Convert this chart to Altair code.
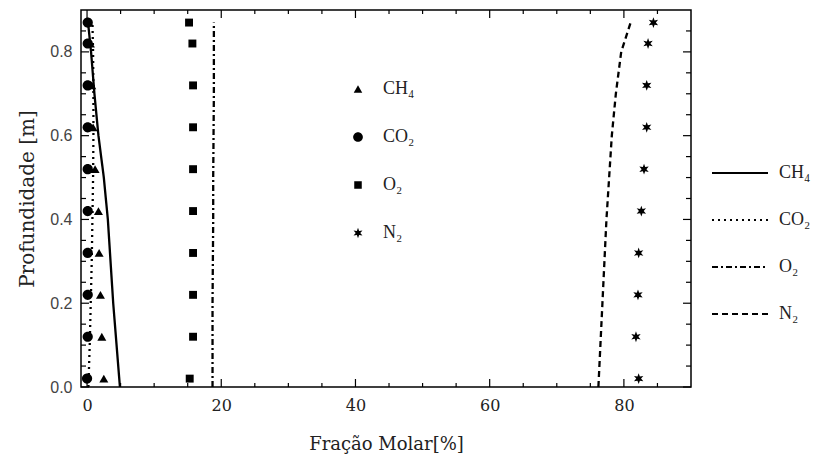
import math
import altair as alt
import pandas as pd

# ---- data ----
species = ["CH₄", "CO₂", "O₂", "N₂"]
depth_pts = [0.02, 0.12, 0.22, 0.32, 0.42, 0.52, 0.62, 0.72, 0.82, 0.87]
ch4_pts = [2.5, 2.2, 2.0, 1.8, 1.7, 1.2, 0.9, 0.7, 0.5, 0.3]
co2_pts = [0.0, 0.1, 0.1, 0.1, 0.1, 0.1, 0.1, 0.1, 0.1, 0.1]
o2_pts = [15.3, 15.8, 15.8, 15.8, 15.8, 15.8, 15.8, 15.8, 15.7, 15.2]
n2_pts = [82.2, 81.8, 82.1, 82.2, 82.6, 83.0, 83.4, 83.4, 83.6, 84.4]

depth_line = [0.0, 0.1, 0.2, 0.3, 0.4, 0.5, 0.6, 0.7, 0.8, 0.87]
ch4_line = [4.9, 4.4, 3.9, 3.5, 3.1, 2.5, 1.7, 1.1, 0.6, 0.15]
co2_line = [0.2, 0.4, 0.55, 0.7, 0.8, 0.9, 0.95, 0.95, 0.9, 0.8]
o2_line = [18.7, 18.7, 18.7, 18.75, 18.8, 18.8, 18.85, 18.9, 18.9, 18.9]
n2_line = [76.2, 76.5, 76.8, 77.1, 77.4, 77.8, 78.2, 78.8, 79.6, 81.0]

x_major = [0, 20, 40, 60, 80]
x_minor = [5, 10, 15, 25, 30, 35, 45, 50, 55, 65, 70, 75, 85]
y_major = [0.0, 0.2, 0.4, 0.6, 0.8]
y_minor = [0.05, 0.1, 0.15, 0.25, 0.3, 0.35, 0.45, 0.5, 0.55, 0.65, 0.7, 0.75, 0.85]

pts = pd.DataFrame(
    [(s, x, d) for s, xs in zip(species, [ch4_pts, co2_pts, o2_pts, n2_pts])
     for x, d in zip(xs, depth_pts)],
    columns=["sp", "x", "depth"],
)
lines = pd.DataFrame(
    [(s, x, d) for s, xs in zip(species, [ch4_line, co2_line, o2_line, n2_line])
     for x, d in zip(xs, depth_line)],
    columns=["sp", "x", "depth"],
)

# ---- marker shapes (unit box [-1,1]) ----
def star_path(r_out=0.9, r_in=0.4, n=6):
    p = []
    for i in range(2 * n):
        r = r_out if i % 2 == 0 else r_in
        a = math.pi / 2 + i * math.pi / n
        p.append((r * math.cos(a), -r * math.sin(a)))
    return "M" + "L".join(f"{x:.3f},{y:.3f}" for x, y in p) + "Z"

def circle_path(r=0.85):
    return f"M{-r},0A{r},{r} 0 1,0 {r},0A{r},{r} 0 1,0 {-r},0Z"

def tri_path(w=0.75, h=0.65):
    return f"M0,{-h}L{w},{h}L{-w},{h}Z"

def sq_path(s=0.66):
    return f"M{-s},{-s}L{s},{-s}L{s},{s}L{-s},{s}Z"

SERIF = "DejaVu Serif"
SANS = "Liberation Sans"
W, H = 610, 377
xs = alt.Scale(domain=[-0.9, 90], nice=False, zero=False)
ys = alt.Scale(domain=[0, 0.9], nice=False, zero=False)

x_axis = alt.Axis(title="Fração Molar[%]", values=x_major, format="d")
y_axis = alt.Axis(title="Profundidade [m]", values=y_major, format=".1f")

line_layer = alt.Chart(lines).mark_line(color="black", strokeWidth=2.3).encode(
    x=alt.X("x:Q", scale=xs, axis=x_axis),
    y=alt.Y("depth:Q", scale=ys, axis=y_axis),
    strokeDash=alt.StrokeDash("sp:N", scale=alt.Scale(
        domain=species, range=[[1, 0], [2, 4], [6, 3, 2, 3], [6, 4]]),
        legend=alt.Legend(title=None, orient="none", legendX=630, legendY=134,
                          symbolType="stroke", symbolSize=3136, symbolStrokeWidth=2,
                          symbolStrokeColor="black", labelFont="Liberation Serif",
                          labelFontSize=18, labelColor="#222", labelOffset=10,
                          rowPadding=9)),
    detail="sp:N",
    order="depth:Q",
)

point_layer = alt.Chart(pts).mark_point(
    filled=True, color="black", opacity=1, size=144
).encode(
    x=alt.X("x:Q", scale=xs, axis=x_axis),
    y=alt.Y("depth:Q", scale=ys, axis=y_axis),
    shape=alt.Shape("sp:N", scale=alt.Scale(
        domain=species, range=[tri_path(), circle_path(), sq_path(), star_path()]),
        legend=alt.Legend(title=None, orient="none", legendX=268, legendY=70,
                          symbolFillColor="black", symbolStrokeColor="black",
                          symbolStrokeWidth=0, symbolSize=130,
                          labelFont="Liberation Serif",
                          labelFontSize=18, labelColor="#222", labelOffset=16,
                          rowPadding=30)),
)

def tick_rules(vals, field, side, length):
    df = pd.DataFrame({field: vals})
    base = alt.Chart(df).mark_rule(color="black", strokeWidth=1.2)
    if side in ("left", "right"):
        enc_y = alt.Y(f"{field}:Q", scale=ys, axis=y_axis)
        if side == "left":
            return base.encode(y=enc_y, x=alt.value(0), x2=alt.value(length))
        return base.encode(y=enc_y, x=alt.value(W), x2=alt.value(W - length))
    enc_x = alt.X(f"{field}:Q", scale=xs, axis=x_axis)
    if side == "bottom":
        return base.encode(x=enc_x, y=alt.value(H), y2=alt.value(H - length))
    return base.encode(x=enc_x, y=alt.value(0), y2=alt.value(length))

ticks = [
    tick_rules(y_major, "depth", "left", 8), tick_rules(y_minor, "depth", "left", 5),
    tick_rules(y_major, "depth", "right", 8), tick_rules(y_minor, "depth", "right", 5),
    tick_rules(x_major, "x", "bottom", 8), tick_rules(x_minor, "x", "bottom", 4),
    tick_rules(x_major, "x", "top", 8), tick_rules(x_minor, "x", "top", 4),
]

chart = alt.layer(line_layer, point_layer, *ticks).resolve_scale(
    strokeDash="independent", shape="independent"
).properties(
    width=W, height=H,
    autosize=alt.AutoSizeParams(type="none"),
    padding={"left": 81, "top": 10, "right": 125, "bottom": 83},
    background="white",
).configure_view(
    stroke="black", strokeWidth=1.5
).configure_axis(
    grid=False, ticks=False, domain=False,
).configure_axisX(
    labelFont=SERIF, labelFontSize=16, labelPadding=10, labelColor="#222",
    titleFont=SERIF, titleFontSize=18, titleFontWeight="normal", titlePadding=22,
    titleColor="#222",
).configure_axisY(
    labelFont=SANS, labelFontSize=16, labelPadding=9, labelColor="#444",
    titleFont=SERIF, titleFontSize=20, titleFontWeight="normal", titlePadding=12,
    titleColor="#222",
)

chart.save("out.html", embed_options={"renderer": "svg", "actions": False})
